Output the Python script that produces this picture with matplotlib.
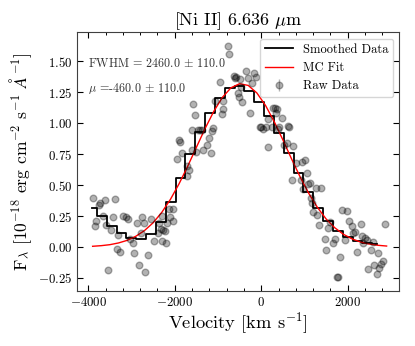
import matplotlib
matplotlib.use("Agg")
import matplotlib.pyplot as plt

plt.rcParams['font.family'] = 'serif'
plt.rcParams['font.serif'] = ['cmr10', 'DejaVu Serif']
plt.rcParams['mathtext.fontset'] = 'cm'
plt.rcParams['axes.formatter.use_mathtext'] = True
plt.rcParams['axes.unicode_minus'] = True

# Raw data (velocity km/s, flux)
raw_v = [-3898, -3852, -3822, -3760, -3729, -3667, -3621, -3584, -3544, -3475,
         -3429, -3391, -3344, -3314, -3267, -3205, -3135, -3075, -3035, -2959,
         -2950, -2880, -2834, -2788, -2751, -2713, -2681, -2626, -2550, -2480,
         -2396, -2366, -2327, -2296, -2288, -2265, -2226, -2203, -2187, -2126,
         -2110, -2048, -2030, -1955, -1912, -1880, -1840, -1724, -1710, -1679,
         -1608, -1600, -1571, -1539, -1517, -1460, -1415, -1370, -1354, -1247,
         -1201, -1162, -1132, -1109, -1062, -953, -914, -893, -877, -762,
         -738, -630, -608, -580, -530, -515, -500, -468, -455, -359,
         -299, -260, -220, -167, -121, -28, 6, 48, 99, 150,
         164, 242, 279, 318, 335, 372, 379, 411, 474, 526,
         589, 626, 650, 719, 742, 804, 920, 936, 960, 1013,
         1050, 1089, 1128, 1152, 1182, 1190, 1267, 1298, 1344, 1375,
         1468, 1498, 1545, 1590, 1653, 1707, 1745, 1784, 1822, 1862,
         1931, 1977, 2031, 2093, 2130, 2170, 2223, 2301, 2338, 2361,
         2400, 2454, 2460, 2532, 2592, 2616, 2671, 2708, 2725, 2764,
         2817, 2863]
raw_f = [0.398, 0.170, 0.210, 0.339, 0.353, 0.250, 0.380, 0.180, -0.186, 0.137,
         0.242, 0.385, -0.019, 0.094, -0.043, 0.250, 0.245, 0.226, 0.062, 0.035,
         -0.046, 0.196, -0.145, 0.116, 0.245, 0.196, -0.199, -0.065, 0.226, 0.048,
         0.110, 0.191, 0.148, 0.250, 0.048, 0.137, 0.130, 0.030, 0.196, 0.309,
         0.240, 0.207, 0.309, 0.708, 0.864, 0.850, 0.757, 0.576, 0.654, 0.625,
         0.945, 0.784, 1.155, 1.066, 0.770, 0.945, 0.945, 0.945, 0.784, 0.824,
         0.878, 0.757, 0.937, 0.964, 1.182, 1.335, 1.075, 1.180, 1.115, 1.626,
         1.556, 1.384, 1.368, 1.370, 1.241, 1.215, 1.360, 1.295, 1.174, 1.424,
         1.362, 1.085, 1.322, 1.408, 1.376, 0.972, 0.967, 0.953, 0.972, 0.810,
         1.031, 0.972, 1.120, 1.120, 1.080, 1.115, 0.953, 0.967, 1.040, 0.824,
         0.838, 0.980, 0.967, 0.541, 0.818, 0.676, 0.541, 0.689, 0.469, 0.703,
         0.595, 0.509, 0.514, 0.393, 0.353, 0.285, 0.474, 0.258, 0.178, 0.479,
         0.065, -0.024, 0.151, 0.205, 0.030, 0.065, -0.240, -0.240, -0.083, 0.299,
         0.057, 0.293, 0.210, 0.172, 0.111, 0.120, -0.038, 0.186, 0.089, 0.030,
         0.070, 0.057, -0.180, -0.024, 0.043, -0.145, -0.218, -0.046, -0.167, -0.140,
         -0.111, 0.183]

# Smoothed (binned) data
smooth_v = [-3915, -3688, -3460, -3233, -3005, -2778, -2550, -2323, -2095, -1868,
            -1640, -1413, -1185, -958, -730, -503, -275, -48, 180, 408,
            635, 863, 1090, 1318, 1545, 1773, 2000, 2228, 2455, 2683]
smooth_f = [0.315, 0.250, 0.172, 0.116, 0.070, 0.062, 0.102, 0.205, 0.366, 0.555,
            0.751, 0.932, 1.085, 1.207, 1.282, 1.301, 1.260, 1.174, 1.058, 0.918,
            0.757, 0.601, 0.447, 0.312, 0.210, 0.132, 0.078, 0.046, 0.030, 0.022]

# MC fit curve
fit_v = [-3900, -3700, -3500, -3300, -3100, -2900, -2700, -2500, -2300, -2100,
         -1900, -1700, -1500, -1300, -1100, -900, -700, -500, -300, -100,
         100, 300, 500, 700, 900, 1100, 1300, 1500, 1700, 1900,
         2100, 2300, 2500, 2700, 2900]
fit_f = [0.006, 0.011, 0.019, 0.033, 0.054, 0.087, 0.133, 0.196, 0.280, 0.385,
         0.511, 0.653, 0.805, 0.956, 1.094, 1.208, 1.286, 1.319, 1.305, 1.244,
         1.143, 1.013, 0.866, 0.713, 0.566, 0.433, 0.320, 0.227, 0.156, 0.103,
         0.066, 0.040, 0.024, 0.014, 0.008]

title = r"[Ni II] 6.636 $\mu$m"
fwhm_text = r"FWHM = 2460.0 $\pm$ 110.0"
mu_text = r"$\mu$ =-460.0 $\pm$ 110.0"

fig = plt.figure(figsize=(4.15, 3.46), dpi=100)
ax = fig.add_axes([0.1863, 0.159, 0.7759, 0.7476])

ax.plot(smooth_v, smooth_f, drawstyle='steps-mid', color='k', lw=1.3,
        label='Smoothed Data')
ax.plot(fit_v, fit_f, color='red', lw=1.0, label='MC Fit')
ax.errorbar(raw_v, raw_f, yerr=0, fmt='o', color='k', alpha=0.3, ms=4.8,
            mec='k', elinewidth=1, label='Raw Data')

ax.set_xlim(-4254, 3194)
ax.set_ylim(-0.355, 1.734)
ax.set_xticks([-4000, -2000, 0, 2000])
ax.set_yticks([-0.25, 0.0, 0.25, 0.5, 0.75, 1.0, 1.25, 1.5])
ax.yaxis.set_major_formatter(matplotlib.ticker.FormatStrFormatter('$%.2f$'))
ax.xaxis.set_minor_locator(matplotlib.ticker.MultipleLocator(400))
ax.tick_params(which='both', direction='in', top=True, right=True, labelsize=9.3)
ax.tick_params(which='major', length=4.5, width=0.8)
ax.tick_params(which='minor', length=2.5, width=0.7)
for s in ax.spines.values():
    s.set_color('0.25')

ax.set_title(title, fontsize=13, pad=1.5)
ax.set_xlabel(r"Velocity [km s$^{-1}$]", fontsize=13.3, labelpad=1)
ax.set_ylabel(r"F$_\lambda$ [10$^{-18}$ erg cm$^{-2}$ s$^{-1}$ $\AA^{-1}$]",
              fontsize=12.6, labelpad=3)

ax.text(0.033, 0.88, fwhm_text, transform=ax.transAxes, fontsize=8.7,
        va='center', ha='left', color='0.2')
ax.text(0.033, 0.784, mu_text, transform=ax.transAxes, fontsize=8.7,
        va='center', ha='left', color='0.2')

ax.legend(loc='upper right', fontsize=9, frameon=True, handlelength=2.2,
          handletextpad=0.8, labelspacing=0.5, borderaxespad=0.5)

fig.savefig('out.png', dpi=100)
